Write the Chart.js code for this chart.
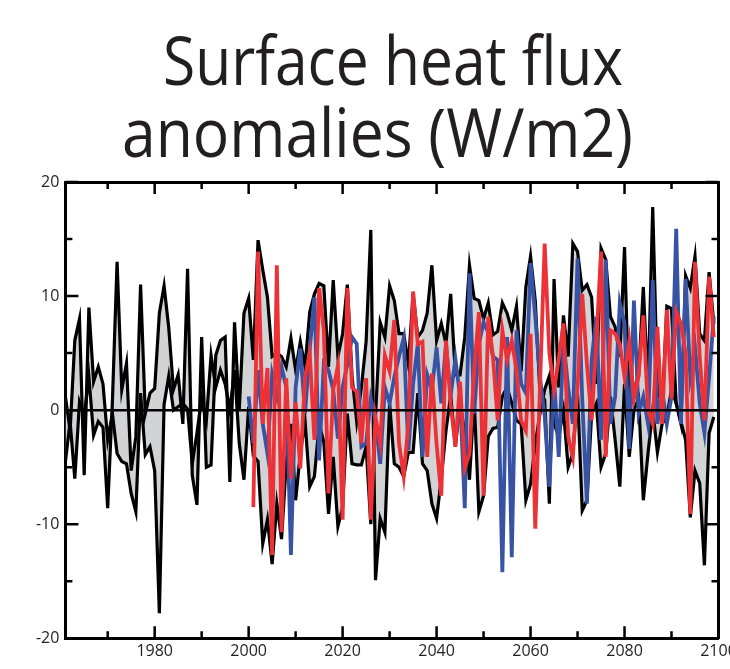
<!DOCTYPE html>
<html>
<head>
<meta charset="utf-8">
<title>Surface heat flux anomalies</title>
<script src="https://cdn.jsdelivr.net/npm/chart.js@4.4.1/dist/chart.umd.min.js"></script>
<style>
  html, body { margin: 0; padding: 0; background: #fff; }
  #wrap { position: relative; width: 730px; height: 669px; overflow: hidden; background: #fff; }
  #chart { position: absolute; left: 0; top: 0; }
  .title-line {
    position: absolute;
    white-space: nowrap;
    font-family: 'Open Sans', sans-serif;
    font-size: 68px;
    line-height: 68px;
    color: #231f20;
    transform-origin: 0 0;
  }
</style>
</head>
<body>
<div id="wrap">
  <div class="title-line" id="t1">Surface heat flux</div>
  <div class="title-line" id="t2">anomalies (W/m2)</div>
  <canvas id="chart" width="770" height="669"></canvas>
</div>
<script>
// years of the two black envelope lines
const years = [
  1961, 1962, 1963, 1964, 1965, 1966, 1967, 1968, 1969, 1970,
  1971, 1972, 1973, 1974, 1975, 1976, 1977, 1978, 1979, 1980,
  1981, 1982, 1983, 1984, 1985, 1986, 1987, 1988, 1989, 1990,
  1991, 1992, 1993, 1994, 1995, 1996, 1997, 1998, 1999, 2000,
  2001, 2002, 2003, 2004, 2005, 2006, 2007, 2008, 2009, 2010,
  2011, 2012, 2013, 2014, 2015, 2016, 2017, 2018, 2019, 2020,
  2021, 2022, 2023, 2024, 2025, 2026, 2027, 2028, 2029, 2030,
  2031, 2032, 2033, 2034, 2035, 2036, 2037, 2038, 2039, 2040,
  2041, 2042, 2043, 2044, 2045, 2046, 2047, 2048, 2049, 2050,
  2051, 2052, 2053, 2054, 2055, 2056, 2057, 2058, 2059, 2060,
  2061, 2062, 2063, 2064, 2065, 2066, 2067, 2068, 2069, 2070,
  2071, 2072, 2073, 2074, 2075, 2076, 2077, 2078, 2079, 2080,
  2081, 2082, 2083, 2084, 2085, 2086, 2087, 2088, 2089, 2090,
  2091, 2092, 2093, 2094, 2095, 2096, 2097, 2098, 2099
];

const blackA = [
  1.2, -1.8, 6.1, 8.0, -5.7, 9.0, 2.5, 3.8, 2.3, -2.6,
  -0.3, -3.8, -4.5, -4.7, -7.3, -8.9, 1.5, -3.9, -3.2, -5.3,
  -17.8, 0.5, 3.0, 0.0, 0.3, 0.6, 0.1, -4.7, -2.0, 1.0,
  -0.9, 4.8, 2.0, 3.5, 2.3, 0.0, 3.5, -2.9, -6.1, 0.3,
  -4.0, -4.5, -11.7, -9.6, -13.5, -8.2, -11.3, -4.7, -1.2, -7.9,
  -3.8, -0.9, -6.7, -5.8, -1.2, -2.8, -9.1, -4.1, -10.2, -8.5,
  -0.3, -4.7, -4.8, -4.8, -3.2, -10.0, -0.5, 7.7, 6.4, 10.9,
  9.6, 6.7, 6.7, 4.0, 10.2, 6.4, 7.0, 8.5, 12.7, 6.1,
  7.6, 5.8, 10.2, 3.1, 3.1, 6.4, 12.7, 9.8, 9.6, 8.0,
  9.4, 6.6, 6.9, 9.4, 8.5, 7.0, 9.1, 3.4, 10.8, 13.5,
  9.6, 1.5, 0.9, -8.2, 11.5, 2.0, 8.3, 4.7, 14.6, 13.9,
  10.5, 11.0, 9.9, 2.3, 14.2, 13.2, 8.2, 7.3, 4.7, 14.3,
  0.0, 1.8, 3.0, 10.8, 1.8, 17.8, 2.3, 0.0, 9.1, 8.9,
  0.6, -1.2, 11.8, 10.7, 13.5, 6.7, 6.1, 12.1, 7.6
];

const blackB = [
  -4.5, -1.0, -6.0, 0.7, -0.5, 2.9, -2.2, -1.0, -1.5, -8.6,
  0.7, 13.0, 1.8, 4.1, -5.3, -2.3, 11.0, -0.3, 1.5, 1.9,
  8.5, 10.9, 7.2, 1.8, 3.1, -1.2, 12.4, -5.7, -8.3, 6.4,
  -5.0, -4.8, 4.8, 6.1, 6.4, -6.3, 7.7, 0.0, 8.5, 9.8,
  4.4, 14.9, 12.3, 9.9, 4.7, 5.0, 4.7, 3.8, 6.3, 3.5,
  6.0, 3.8, 8.6, 10.2, 11.1, 10.9, 3.8, 11.4, 4.7, 6.7,
  11.0, 3.0, -1.0, 2.0, 6.0, 15.8, -14.9, -9.5, -10.7, 0.6,
  -4.7, -5.0, -5.8, -3.7, -3.7, 1.5, -4.7, -5.3, -8.2, -9.5,
  -6.0, -1.8, 1.3, -3.2, 0.6, -2.0, -6.1, 1.0, -8.9, -7.5,
  -2.3, -1.6, -1.5, 1.2, 2.0, 0.6, -0.9, -1.2, -7.9, -6.5,
  -3.0, -0.3, 1.8, 3.0, -1.2, -2.3, 0.0, -5.0, -3.8, 1.5,
  -8.8, -7.9, -0.3, 0.6, -5.0, -3.8, 1.2, -2.6, -6.7, 2.3,
  -4.1, 0.0, 1.0, -7.9, -3.8, 0.0, -3.7, -1.2, -0.6, 1.8,
  0.6, -1.0, -2.6, -9.4, -5.3, -6.4, -13.6, -2.0, -0.6
];

// blue starts in 2000, red in 2001
const blueYears = years.slice(39);
const blue = [
  1.2, -2.9, 3.5, -1.2, -3.8, 3.1, 1.2, 3.8, 2.0, -12.7,
  2.0, 5.4, -0.3, 5.3, 9.9, -4.4, 4.1, 3.5, 1.8, -2.5,
  2.0, 4.0, 6.4, 5.8, -3.2, -2.9, 1.0, -0.9, -4.7, 2.0,
  0.6, 2.9, 4.7, 6.3, -3.5, 2.3, 5.8, -4.1, 3.1, 1.8,
  5.5, 0.6, 5.8, 1.3, 4.5, 1.2, -8.6, 12.0, -0.3, 5.8,
  7.7, 6.8, 4.7, 4.4, -14.2, 6.4, -12.9, 7.0, 2.3, 1.5,
  12.9, 8.2, 2.9, -0.5, -6.7, 2.8, -4.1, 6.1, 2.0, -1.2,
  13.3, 0.9, -8.2, 4.4, 8.2, -2.6, 13.2, -1.2, 1.2, 9.4,
  7.6, -3.4, 9.6, -0.3, 1.2, -1.2, 11.4, -1.2, 1.8, -1.2,
  1.2, 15.9, -1.2, 11.5, 2.9, 5.5, 0.6, -2.0, 2.9, 8.2
];

const redYears = years.slice(40);
const red = [
  -8.5, 13.9, -1.2, 3.7, -12.7, 12.7, -10.7, 2.8, -6.0,
  0.7, -5.1, 2.9, 5.0, -2.6, 10.7, 7.0, -7.3, 1.8, 3.9,
  -9.6, 10.7, 2.0, 1.6, -2.9, 2.8, -9.6, -0.6, -2.9, 4.8,
  3.4, 7.9, -2.9, -5.8, -1.2, 10.4, 5.8, 6.0, -4.1, 3.2,
  -3.0, -7.5, 6.1, 0.5, -3.2, 2.5, -5.1, -3.8, 3.5, 8.6,
  -7.5, 8.2, 4.7, -0.9, 7.0, 4.4, 6.1, 3.5, -0.9, -1.8,
  6.7, -10.4, 2.0, 14.6, 5.0, 1.8, 4.5, 7.6, -2.3, -4.1,
  2.0, 10.2, 4.0, -0.9, 6.0, 13.9, -4.1, 7.0, 6.7, 5.8,
  2.9, 6.0, 1.0, 3.0, 8.3, 0.0, -1.2, 7.3, -1.2, 8.8,
  1.0, 8.6, 7.6, 5.0, -9.1, 13.0, 4.7, -0.9, 11.7, 6.4
];

const xTickValues = [1970, 1980, 1990, 2000, 2010, 2020, 2030, 2040, 2050, 2060, 2070, 2080, 2090, 2100];
const yTickValues = [-20, -15, -10, -5, 0, 5, 10, 15, 20];

const toPoints = (xs, ys) => xs.map((x, i) => ({ x: x, y: ys[i] }));

// tick marks pointing into the plot on all four sides
const innerTicks = {
  id: 'innerTicks',
  afterDraw(chart) {
    const { ctx, chartArea, scales } = chart;
    ctx.save();
    ctx.strokeStyle = '#000';
    ctx.lineWidth = 2.5;
    ctx.beginPath();
    xTickValues.forEach(v => {
      const px = scales.x.getPixelForValue(v);
      const len = v % 20 === 0 ? 12 : 7;
      ctx.moveTo(px, chartArea.bottom);
      ctx.lineTo(px, chartArea.bottom - len);
      ctx.moveTo(px, chartArea.top);
      ctx.lineTo(px, chartArea.top + len);
    });
    yTickValues.forEach(v => {
      const py = scales.y.getPixelForValue(v);
      const len = v % 10 === 0 ? 13 : 7;
      ctx.moveTo(chartArea.left, py);
      ctx.lineTo(chartArea.left + len, py);
      ctx.moveTo(chartArea.right, py);
      ctx.lineTo(chartArea.right - len, py);
    });
    ctx.stroke();
    ctx.restore();
  }
};

const tickFont = { family: 'Open Sans', size: 16 };

new Chart(document.getElementById('chart'), {
  type: 'line',
  data: {
    datasets: [
      {
        label: 'range a',
        data: toPoints(years, blackA),
        borderColor: '#000',
        borderWidth: 3.2,
        fill: false,
        order: 4
      },
      {
        label: 'range b',
        data: toPoints(years, blackB),
        borderColor: '#000',
        borderWidth: 3.2,
        backgroundColor: '#d1d3d4',
        fill: '-1',
        order: 3
      },
      {
        label: 'blue',
        data: toPoints(blueYears, blue),
        borderColor: '#3953a4',
        borderWidth: 3.8,
        fill: false,
        order: 2
      },
      {
        label: 'red',
        data: toPoints(redYears, red),
        borderColor: '#ed3237',
        borderWidth: 3.8,
        fill: false,
        order: 1
      },
      {
        label: 'zero',
        data: [{ x: 1961, y: 0 }, { x: 2100, y: 0 }],
        borderColor: '#000',
        borderWidth: 2.5,
        fill: false,
        order: 0
      }
    ]
  },
  options: {
    responsive: false,
    animation: false,
    layout: { padding: { top: 182, right: 51.5, bottom: 0, left: 0 } },
    elements: { point: { radius: 0 }, line: { tension: 0 } },
    plugins: {
      legend: { display: false },
      tooltip: { enabled: false },
      filler: { drawTime: 'beforeDatasetsDraw' }
    },
    scales: {
      x: {
        type: 'linear',
        position: 'bottom',
        min: 1961,
        max: 2100,
        afterBuildTicks: s => { s.ticks = xTickValues.map(v => ({ value: v })); },
        afterFit: s => { s.height = 30.7; },
        grid: { display: false, drawTicks: false },
        border: { display: true, color: '#000', width: 3 },
        ticks: {
          autoSkip: false,
          maxRotation: 0,
          padding: 4,
          color: '#231f20',
          font: tickFont,
          callback: v => (v % 20 === 0 ? String(v) : '')
        }
      },
      xTop: {
        type: 'linear',
        position: 'top',
        afterFit: s => { s.height = 0; },
        grid: { display: false, drawTicks: false },
        border: { display: true, color: '#000', width: 3 },
        ticks: { display: false }
      },
      y: {
        type: 'linear',
        position: 'left',
        min: -20,
        max: 20,
        afterBuildTicks: s => { s.ticks = yTickValues.map(v => ({ value: v })); },
        afterFit: s => { s.width = 65.4; },
        grid: { display: false, drawTicks: false },
        border: { display: true, color: '#000', width: 3 },
        ticks: {
          padding: 6,
          color: '#231f20',
          font: tickFont,
          callback: v => (v % 10 === 0 ? String(v) : '')
        }
      },
      yRight: {
        type: 'linear',
        position: 'right',
        afterFit: s => { s.width = 0; },
        grid: { display: false, drawTicks: false },
        border: { display: true, color: '#000', width: 3 },
        ticks: { display: false }
      }
    }
  },
  plugins: [innerTicks]
});

// title lines: place each baseline and squeeze to the width of the original lettering
const titleLines = [
  { id: 't1', left: 163, baseline: 85, width: 460 },
  { id: 't2', left: 122, baseline: 157, width: 511 }
];

function placeTitle() {
  titleLines.forEach(t => {
    const el = document.getElementById(t.id);
    el.style.transform = 'none';
    const w = el.getBoundingClientRect().width;
    el.style.left = t.left + 'px';
    el.style.top = (t.baseline - 0.888 * 68) + 'px';
    el.style.transform = 'scaleX(' + (t.width / w) + ')';
  });
}
placeTitle();
if (document.fonts && document.fonts.ready) document.fonts.ready.then(placeTitle);
</script>
</body>
</html>
